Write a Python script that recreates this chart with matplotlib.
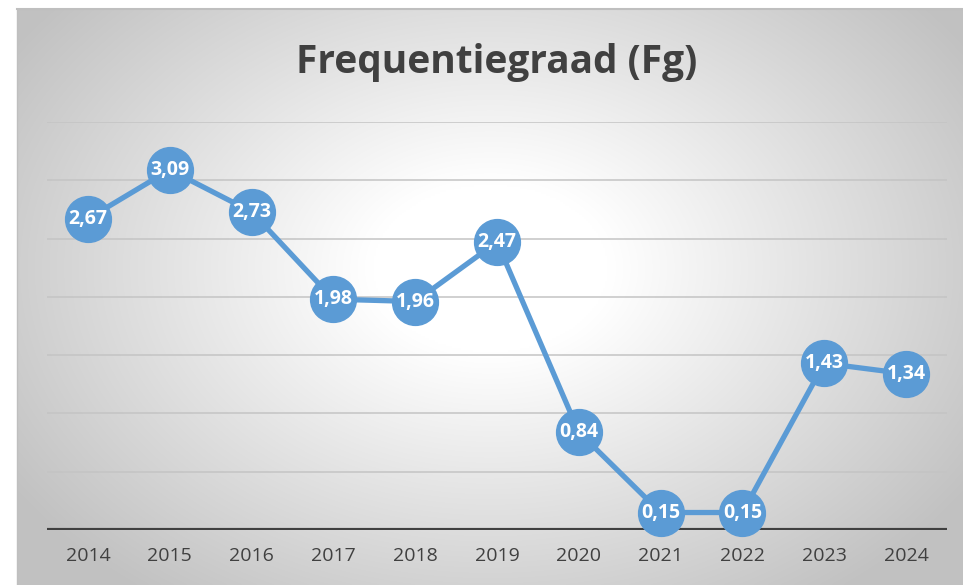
import matplotlib
matplotlib.use("Agg")
import matplotlib.pyplot as plt
import numpy as np

# Data
years = ["2014", "2015", "2016", "2017", "2018", "2019",
         "2020", "2021", "2022", "2023", "2024"]
fg_values = [2.67, 3.09, 2.73, 1.98, 1.96, 2.47, 0.84, 0.15, 0.15, 1.43, 1.34]

BLUE = "#5B9BD5"
TEXT = "#404040"
W, H = 963, 585

fig = plt.figure(figsize=(W / 100, H / 100), dpi=100)
fig.patch.set_facecolor("white")

# ---- radial gradient background of the chart box ----
x0, y0 = 17 / W, 1 - 9 / H
bg = fig.add_axes([x0, 0, 1 - x0, y0], zorder=0)
gx, gy = np.meshgrid(np.linspace(-1, 1, 500), np.linspace(-1, 1, 300))
r = np.sqrt((gx * 1.0) ** 2 + ((gy + 0.1) * 0.85) ** 2)
shade = np.clip(1.0 - 0.24 * np.clip(r - 0.25, 0, None) / 0.95, 0.76, 1.0)
bg.imshow(np.dstack([shade] * 3), aspect="auto", extent=[0, 1, 0, 1],
          interpolation="bilinear")
bg.set_xlim(0, 1)
bg.set_ylim(0, 1)
bg.axis("off")
bg.plot([0, 1], [1, 1], color="#bfbfbf", lw=1.5, clip_on=False)
bg.plot([0, 0], [0, 1], color="#bfbfbf", lw=1.0, clip_on=False)

# ---- plot area ----
ax = fig.add_axes([47 / W, 55 / H, 900 / W, 408 / H], zorder=1)
ax.patch.set_alpha(0)
x = np.arange(len(years))

ax.set_ylim(0, 3.5)
ax.set_xlim(-0.5, len(years) - 0.5)
for v in np.arange(0.5, 3.51, 0.5):
    ax.axhline(v, color="#c4c4c4", lw=1.1, zorder=1)
ax.axhline(0, color=TEXT, lw=3, zorder=2)

ax.plot(x, fg_values, color=BLUE, lw=3.8, marker="o", markersize=33,
        markerfacecolor=BLUE, markeredgecolor=BLUE, zorder=3, clip_on=False)
for xi, v in zip(x, fg_values):
    ax.text(xi, v, f"{v:.2f}".replace(".", ","), ha="center", va="center",
            color="white", fontsize=14, fontweight="bold",
            family="Open Sans", zorder=4)

ax.set_xticks(x)
ax.set_xticklabels(years, fontsize=14, color=TEXT, family="Open Sans")
ax.tick_params(axis="x", length=0, pad=12)
ax.set_yticks([])
for s in ax.spines.values():
    s.set_visible(False)

fig.text(497 / W, 1 - 62 / H, "Frequentiegraad (Fg)", ha="center", va="center",
         fontsize=28, fontweight="bold", color=TEXT, family="Open Sans")

fig.savefig("out.png", dpi=100)
